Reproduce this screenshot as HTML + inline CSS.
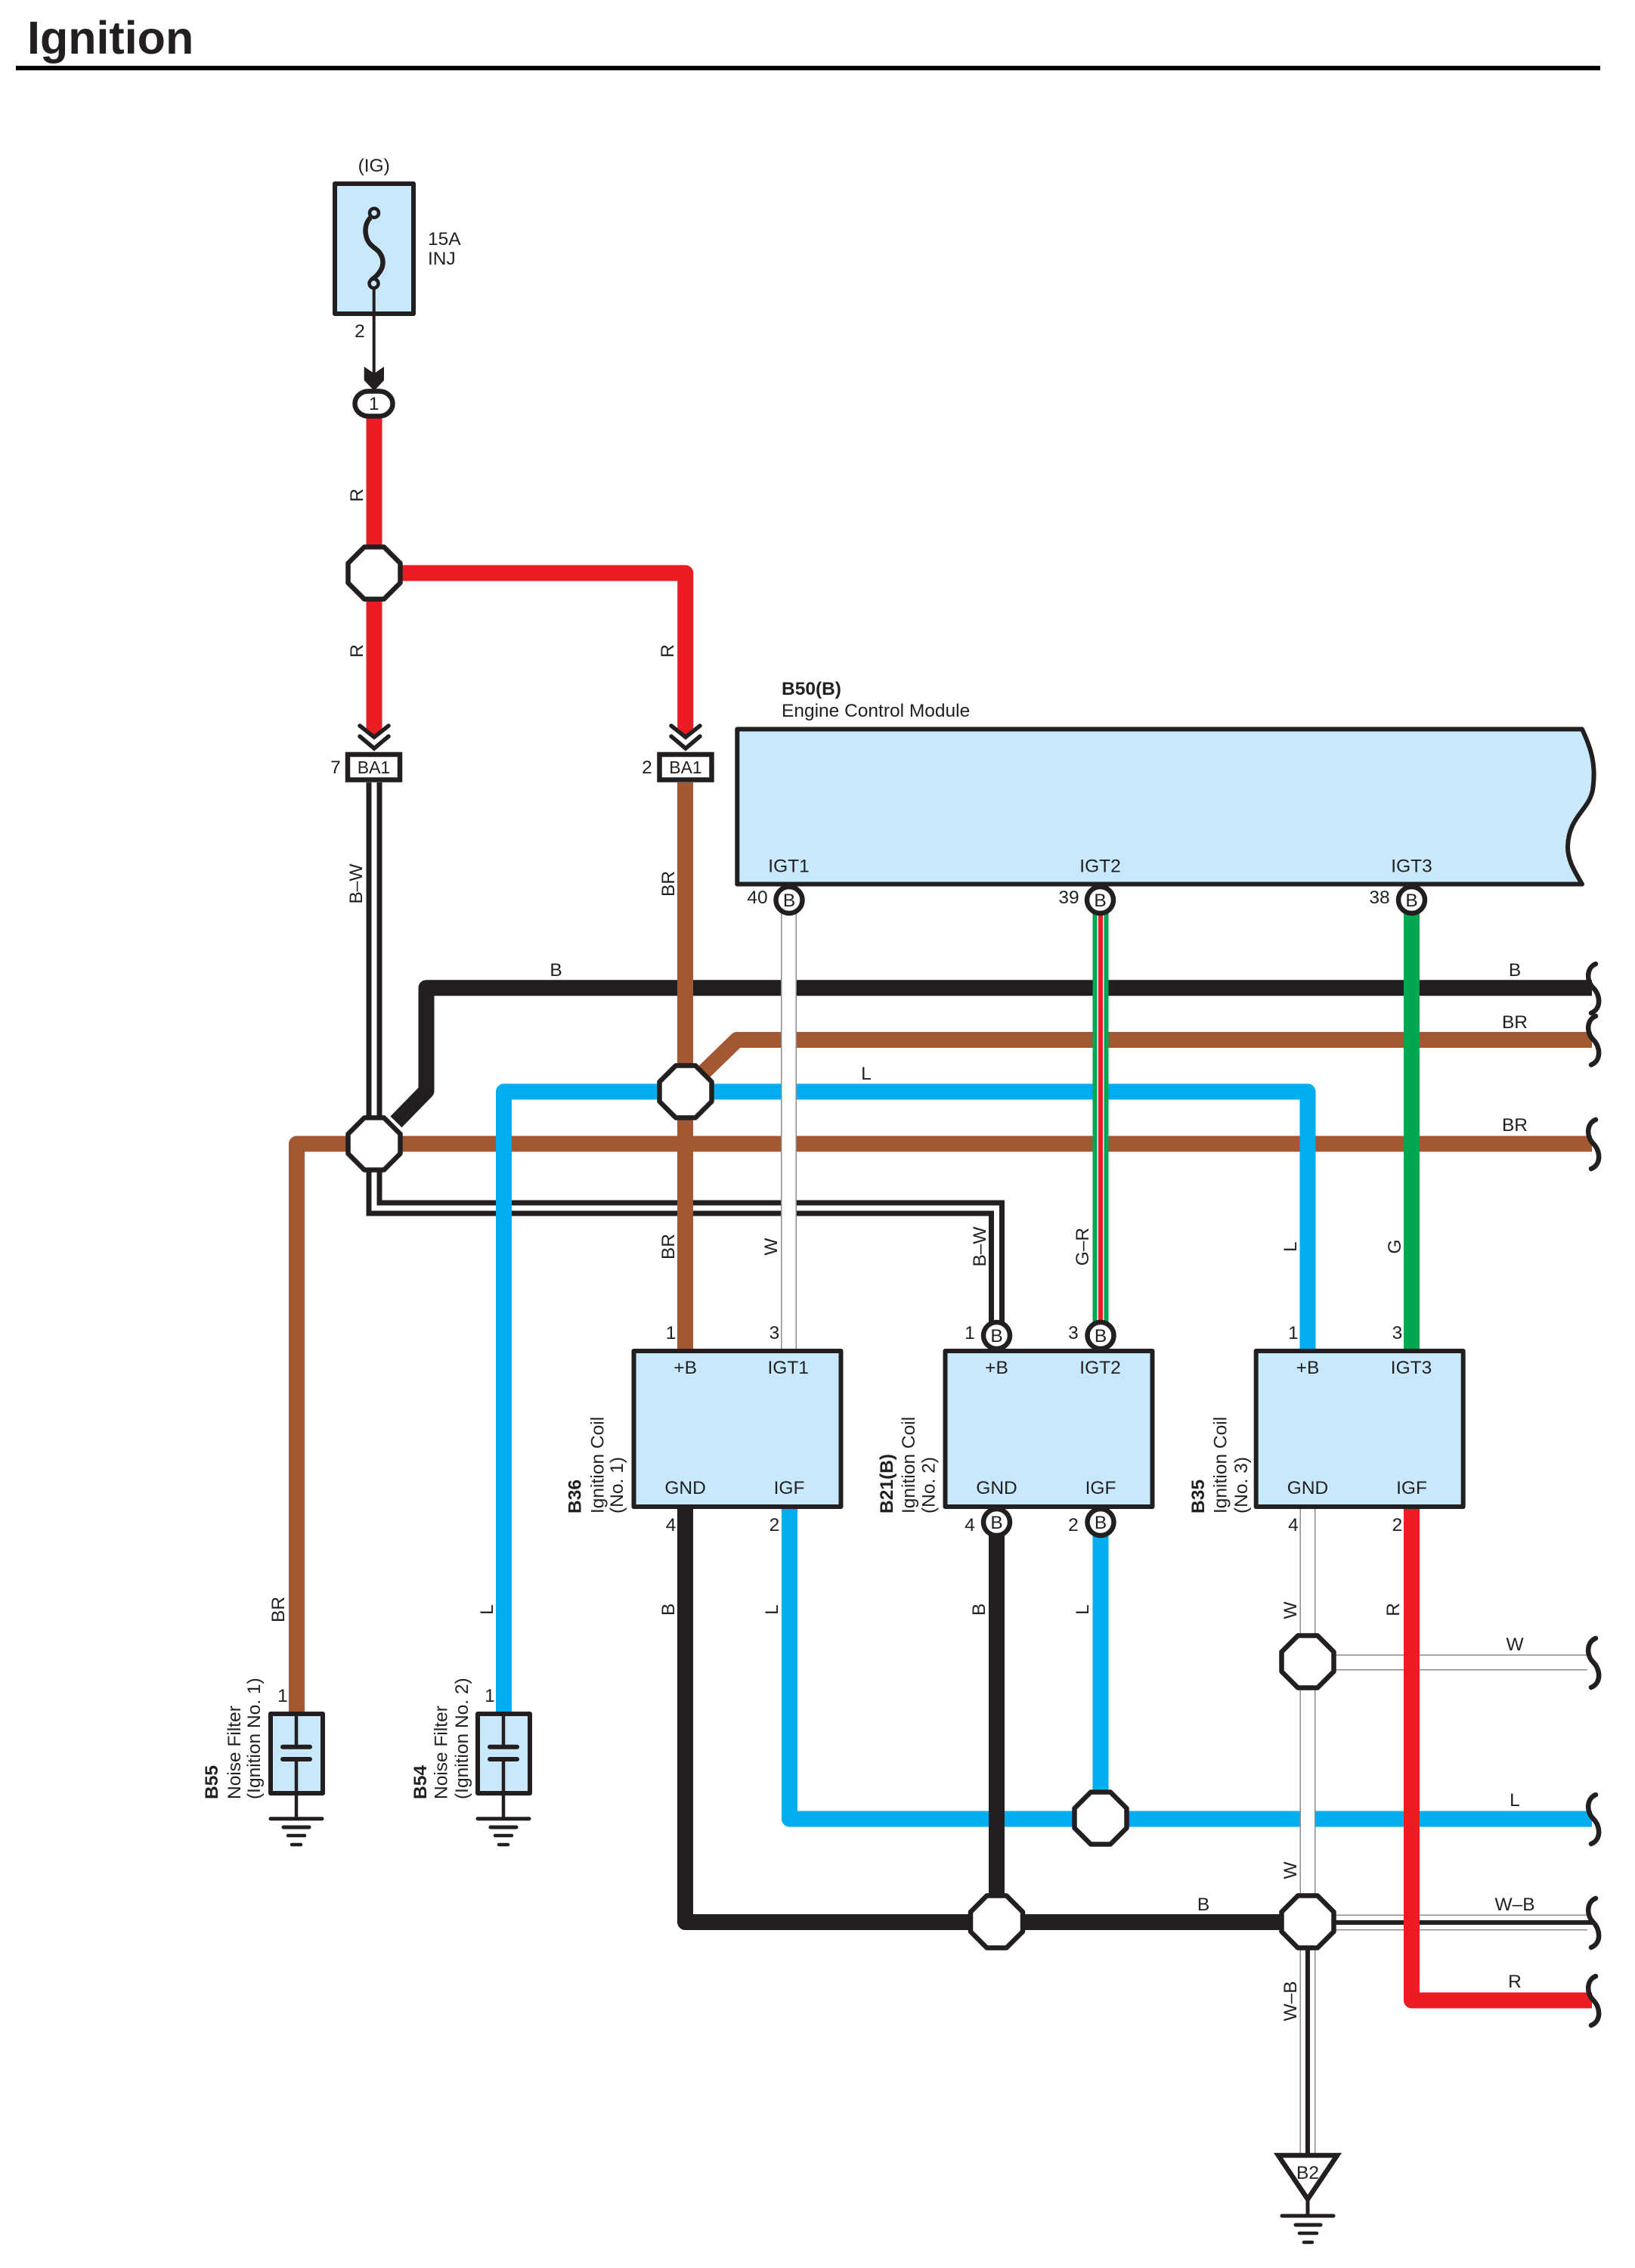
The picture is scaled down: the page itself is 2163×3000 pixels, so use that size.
<!DOCTYPE html>
<html lang="en">
<head>
<meta charset="utf-8">
<title>Ignition</title>
<style>
html,body{margin:0;padding:0;background:#fff}
svg{display:block}
text{font-family:"Liberation Sans",Arial,sans-serif;font-size:24.5px;fill:#231f20;text-anchor:middle}
.b{font-weight:bold}
.s{text-anchor:start}
.w{fill:none;stroke-linejoin:round}
.sq{fill:none;stroke:#231f20;stroke-width:6.5;stroke-linecap:round}
.box{fill:#c8e8fb;stroke:#231f20;stroke-width:6;stroke-linejoin:round}
.con{fill:#fff;stroke:#231f20;stroke-width:6.5}
.blk{stroke:#231f20;stroke-linecap:round;fill:none}
</style>
</head>
<body>
<svg xmlns="http://www.w3.org/2000/svg" width="2163" height="3000" viewBox="0 0 2163 3000">
<defs>
<polygon id="oct" points="-13,-34.5 13,-34.5 34.5,-13 34.5,13 13,34.5 -13,34.5 -34.5,13 -34.5,-13" fill="#fff" stroke="#231f20" stroke-width="6.5" stroke-linejoin="round"/>
</defs>
<rect width="2163" height="3000" fill="#fff"/>
<text x="36" y="71" class="b s" style="font-size:61px">Ignition</text>
<rect x="21" y="87" width="2096" height="6" fill="#000"/>

<!-- ECM box -->
<path class="box" d="M975.3,964.5 H2093 C2105,990 2112,1012 2107,1045 C2102,1072 2075,1080 2074,1120 C2074,1140 2085,1155 2093,1169.5 H975.3 Z"/>

<!-- upper wires -->
<path class="w" stroke="#231f20" stroke-width="21" d="M524,1484 L564,1443 V1306.7 H2106"/>
<path class="w" stroke="#a45733" stroke-width="21" d="M925,1424 L975,1375.5 H2106"/>
<path class="w" stroke="#a45733" stroke-width="21" d="M2106,1513 H392.5 V2266"/>
<path fill="none" stroke="#231f20" stroke-width="21" stroke-linejoin="miter" d="M495,1035 V1598 H1318.5 V1750"/>
<path fill="none" stroke="#fff" stroke-width="7" stroke-linejoin="miter" d="M495,1035 V1598 H1318.5 V1750"/>
<path class="w" stroke="#00aeef" stroke-width="21" d="M666.5,2266 V1444 H1730 V1787"/>
<path class="w" stroke="#a45733" stroke-width="21" d="M906.5,1035 V1787"/>
<path class="w" stroke="#8c8c8c" stroke-width="21" d="M1043.5,1205 V1787"/>
<path class="w" stroke="#fff" stroke-width="18" d="M1043.5,1205 V1787"/>
<path class="w" stroke="#00a651" stroke-width="21" d="M1456,1205 V1750"/>
<path class="w" stroke="#fff" stroke-width="9" d="M1456,1205 V1750"/>
<path class="w" stroke="#ed1c24" stroke-width="6" d="M1456,1205 V1750"/>
<path class="w" stroke="#00a651" stroke-width="21" d="M1867.5,1205 V1787"/>
<path class="w" stroke="#ed1c24" stroke-width="21" d="M495,552 V985"/>
<path class="w" stroke="#ed1c24" stroke-width="21" d="M495,758 H906.7 V985"/>
<!-- V-cut the red wire ends under the chevrons -->
<polygon fill="#fff" points="476,960 495,975 514,960 514,994 476,994"/>
<polygon fill="#fff" points="888,960 907,975 926,960 926,994 888,994"/>

<!-- lower wires -->
<path class="w" stroke="#00aeef" stroke-width="21" d="M1044.5,1993 V2406 H2106"/>
<path class="w" stroke="#00aeef" stroke-width="21" d="M1456,2030 V2406"/>
<path class="w" stroke="#231f20" stroke-width="21" d="M906.5,1993 V2542.5 H1700"/>
<path class="w" stroke="#231f20" stroke-width="21" d="M1318.5,2030 V2542"/>
<path stroke="#8c8c8c" stroke-width="21" fill="none" d="M1750,2199 H2100 M1750,2543 H2100"/>
<path stroke="#fff" stroke-width="18" fill="none" d="M1750,2199 H2100 M1750,2543 H2100"/>
<path stroke="#231f20" stroke-width="6" fill="none" d="M1750,2543 H2106"/>
<path stroke="#8c8c8c" stroke-width="21" fill="none" d="M1730,1993 V2850"/>
<path stroke="#fff" stroke-width="18" fill="none" d="M1730,1993 V2850"/>
<path stroke="#231f20" stroke-width="6" fill="none" d="M1730,2560 V2850"/>
<path class="w" stroke="#ed1c24" stroke-width="21" d="M1867.5,1993 V2646 H2106"/>

<!-- squiggles -->
<g class="sq">
<path d="M2111,1275 C2099,1280 2098,1297 2108,1307 C2118,1317 2118,1335 2105,1340"/>
<path d="M2111,1344 C2099,1349 2098,1365.5 2108,1375.5 C2118,1385.5 2118,1403.5 2105,1408.5"/>
<path d="M2111,1481 C2099,1486 2098,1503 2108,1513 C2118,1523 2118,1541 2105,1546"/>
<path d="M2111,2167 C2099,2172 2098,2189 2108,2199 C2118,2209 2118,2227 2105,2232"/>
<path d="M2111,2374 C2099,2379 2098,2396 2108,2406 C2118,2416 2118,2434 2105,2439"/>
<path d="M2111,2511 C2099,2516 2098,2533 2108,2543 C2118,2553 2118,2571 2105,2576"/>
<path d="M2111,2614 C2099,2619 2098,2636 2108,2646 C2118,2656 2118,2674 2105,2679"/>
</g>

<!-- octagons -->
<use href="#oct" transform="translate(495,758)"/>
<use href="#oct" transform="translate(495,1513)"/>
<use href="#oct" transform="translate(907,1444)"/>
<use href="#oct" transform="translate(1730,2198)"/>
<use href="#oct" transform="translate(1456,2405)"/>
<use href="#oct" transform="translate(1318.5,2542)"/>
<use href="#oct" transform="translate(1730,2542)"/>

<!-- fuse -->
<rect class="box" x="443" y="243" width="104" height="172"/>
<path fill="none" stroke="#231f20" stroke-width="6.5" d="M490,288 C483,295 483,305 484,310 C486,325 498,328 502,334 C508,342 508,352 502,360 C498,366 494,368 491,371"/>
<circle cx="495" cy="281.7" r="6" fill="#c8e8fb" stroke="#231f20" stroke-width="4.5"/>
<circle cx="494.5" cy="375" r="6" fill="#c8e8fb" stroke="#231f20" stroke-width="4.5"/>
<path stroke="#231f20" stroke-width="4" d="M494.7,380 V505"/>
<polygon fill="#231f20" points="481.7,485 495,494 508,485 508,503 495,517 481.7,503"/>
<rect class="con" x="469.5" y="517.5" width="50" height="33" rx="18" ry="16.5"/>

<!-- chevrons & BA1 -->
<g fill="none" stroke="#231f20" stroke-width="5.5" stroke-linecap="round">
<path d="M476,960 L495,975 L514,960 M476,974 L495,990 L514,974"/>
<path d="M888,960 L907,975 L926,960 M888,974 L907,990 L926,974"/>
</g>
<rect class="con" x="460" y="998" width="69" height="33.5"/>
<rect class="con" x="872.5" y="998" width="69" height="33.5"/>

<!-- coils -->
<rect class="box" x="838.5" y="1787" width="274" height="206"/>
<rect class="box" x="1250.5" y="1787" width="274" height="206"/>
<rect class="box" x="1661.7" y="1787" width="274" height="206"/>

<!-- round connectors -->
<g class="con">
<circle cx="1044" cy="1190.5" r="17.5"/>
<circle cx="1455.5" cy="1190.5" r="17.5"/>
<circle cx="1867.5" cy="1190.5" r="17.5"/>
<circle cx="1318.5" cy="1766.5" r="17.5"/>
<circle cx="1456" cy="1766.5" r="17.5"/>
<circle cx="1318.5" cy="2013.5" r="17.5"/>
<circle cx="1456" cy="2013.5" r="17.5"/>
</g>

<!-- noise filters -->
<rect x="358" y="2267" width="69" height="105" fill="#c8e8fb" stroke="#231f20" stroke-width="6" stroke-linejoin="round"/>
<rect x="632" y="2267" width="69" height="105" fill="#c8e8fb" stroke="#231f20" stroke-width="6" stroke-linejoin="round"/>
<path stroke="#231f20" stroke-width="4.5" fill="none" d="M392,2267 V2311 M392,2327 V2406 M666,2267 V2311 M666,2327 V2406"/>
<path class="blk" stroke-width="6" d="M374,2310.7 H410 M374,2327 H410 M648,2310.7 H684 M648,2327 H684"/>
<g class="blk">
<path stroke-width="5" d="M358,2405.7 H426 M632,2405.7 H700"/>
<path stroke-width="5" d="M375,2417 H409 M649,2417 H683"/>
<path stroke-width="4.5" d="M381,2428 H403 M655,2428 H677"/>
<path stroke-width="4.5" d="M386,2440 H398 M660,2440 H672"/>
</g>

<!-- ground B2 -->
<polygon points="1691,2851 1769,2851 1730,2909" fill="#fff" stroke="#231f20" stroke-width="6.5" stroke-linejoin="miter"/>
<path stroke="#231f20" stroke-width="5" d="M1730,2911 V2931"/>
<g class="blk">
<path stroke-width="5" d="M1696,2931 H1764"/>
<path stroke-width="5" d="M1714,2943 H1747"/>
<path stroke-width="4.5" d="M1719,2954 H1742"/>
<path stroke-width="4.5" d="M1725,2966 H1736"/>
</g>

<!-- text -->
<text x="494.7" y="227">(IG)</text>
<text x="566" y="324" class="s">15A</text>
<text x="566" y="350" class="s">INJ</text>
<text x="476" y="446">2</text>
<text x="494.7" y="542">1</text>
<text x="494.5" y="1023" style="font-size:23px">BA1</text>
<text x="907" y="1023" style="font-size:23px">BA1</text>
<text x="444" y="1023">7</text>
<text x="856" y="1023">2</text>
<text x="1034" y="919" class="b s">B50(B)</text>
<text x="1034" y="948" class="s">Engine Control Module</text>
<text x="1043.5" y="1153.5">IGT1</text>
<text x="1455.5" y="1153.5">IGT2</text>
<text x="1867.5" y="1153.5">IGT3</text>
<text x="1044" y="1199">B</text>
<text x="1455.5" y="1199">B</text>
<text x="1867.5" y="1199">B</text>
<text x="1002" y="1195">40</text>
<text x="1414" y="1195">39</text>
<text x="1825" y="1195">38</text>
<text x="735.5" y="1291">B</text>
<text x="2004" y="1291">B</text>
<text x="2004" y="1360">BR</text>
<text x="2004" y="1496">BR</text>
<text x="1146" y="1428">L</text>
<text x="2004" y="2183">W</text>
<text x="2004" y="2389">L</text>
<text x="2004" y="2527">W–B</text>
<text x="2004" y="2629">R</text>
<text x="1592" y="2527">B</text>

<text x="906.6" y="1817">+B</text>
<text x="1042.7" y="1817">IGT1</text>
<text x="906.6" y="1976">GND</text>
<text x="1044" y="1976">IGF</text>
<text x="1318.5" y="1817">+B</text>
<text x="1455.5" y="1817">IGT2</text>
<text x="1318.5" y="1976">GND</text>
<text x="1456" y="1976">IGF</text>
<text x="1730" y="1817">+B</text>
<text x="1867" y="1817">IGT3</text>
<text x="1730" y="1976">GND</text>
<text x="1867.5" y="1976">IGF</text>
<text x="1318.5" y="1775">B</text>
<text x="1456" y="1775">B</text>
<text x="1318.5" y="2022">B</text>
<text x="1456" y="2022">B</text>
<text x="887.6" y="1771">1</text>
<text x="1024.5" y="1771">3</text>
<text x="1283" y="1771">1</text>
<text x="1420" y="1771">3</text>
<text x="1711" y="1771">1</text>
<text x="1848.5" y="1771">3</text>
<text x="887.6" y="2025">4</text>
<text x="1024.5" y="2025">2</text>
<text x="1283" y="2025">4</text>
<text x="1420" y="2025">2</text>
<text x="1711" y="2025">4</text>
<text x="1848.5" y="2025">2</text>
<text x="374" y="2251">1</text>
<text x="648" y="2251">1</text>
<text x="1730" y="2882">B2</text>

<!-- rotated wire labels -->
<g>
<text transform="translate(471,655) rotate(-90)" dy=".36em">R</text>
<text transform="translate(471,861) rotate(-90)" dy=".36em">R</text>
<text transform="translate(882,861) rotate(-90)" dy=".36em">R</text>
<text transform="translate(470,1169) rotate(-90)" dy=".36em">B–W</text>
<text transform="translate(883,1169) rotate(-90)" dy=".36em">BR</text>
<text transform="translate(883,1649) rotate(-90)" dy=".36em">BR</text>
<text transform="translate(1019,1649) rotate(-90)" dy=".36em">W</text>
<text transform="translate(1295,1649) rotate(-90)" dy=".36em">B–W</text>
<text transform="translate(1431,1649) rotate(-90)" dy=".36em">G–R</text>
<text transform="translate(1706,1649) rotate(-90)" dy=".36em">L</text>
<text transform="translate(1844,1649) rotate(-90)" dy=".36em">G</text>
<text transform="translate(367,2129) rotate(-90)" dy=".36em">BR</text>
<text transform="translate(643,2129) rotate(-90)" dy=".36em">L</text>
<text transform="translate(883,2129) rotate(-90)" dy=".36em">B</text>
<text transform="translate(1020,2129) rotate(-90)" dy=".36em">L</text>
<text transform="translate(1294,2129) rotate(-90)" dy=".36em">B</text>
<text transform="translate(1431,2129) rotate(-90)" dy=".36em">L</text>
<text transform="translate(1706,2130) rotate(-90)" dy=".36em">W</text>
<text transform="translate(1842,2129) rotate(-90)" dy=".36em">R</text>
<text transform="translate(1706,2474) rotate(-90)" dy=".36em">W</text>
<text transform="translate(1706,2647) rotate(-90)" dy=".36em">W–B</text>
</g>

<!-- rotated component labels -->
<text class="b s" transform="translate(759.5,2002) rotate(-90)" dy=".36em">B36</text>
<text class="s" transform="translate(789.6,2002) rotate(-90)" dy=".36em">Ignition Coil</text>
<text class="s" transform="translate(815,2002) rotate(-90)" dy=".36em">(No. 1)</text>
<text class="b s" transform="translate(1172,2002) rotate(-90)" dy=".36em">B21(B)</text>
<text class="s" transform="translate(1201,2002) rotate(-90)" dy=".36em">Ignition Coil</text>
<text class="s" transform="translate(1227.7,2002) rotate(-90)" dy=".36em">(No. 2)</text>
<text class="b s" transform="translate(1584,2002) rotate(-90)" dy=".36em">B35</text>
<text class="s" transform="translate(1613.6,2002) rotate(-90)" dy=".36em">Ignition Coil</text>
<text class="s" transform="translate(1641,2002) rotate(-90)" dy=".36em">(No. 3)</text>
<text class="b s" transform="translate(279,2380) rotate(-90)" dy=".36em">B55</text>
<text class="s" transform="translate(309,2380) rotate(-90)" dy=".36em">Noise Filter</text>
<text class="s" transform="translate(335,2380) rotate(-90)" dy=".36em">(Ignition No. 1)</text>
<text class="b s" transform="translate(555,2380) rotate(-90)" dy=".36em">B54</text>
<text class="s" transform="translate(582.7,2380) rotate(-90)" dy=".36em">Noise Filter</text>
<text class="s" transform="translate(610,2380) rotate(-90)" dy=".36em">(Ignition No. 2)</text>
</svg>
</body>
</html>
